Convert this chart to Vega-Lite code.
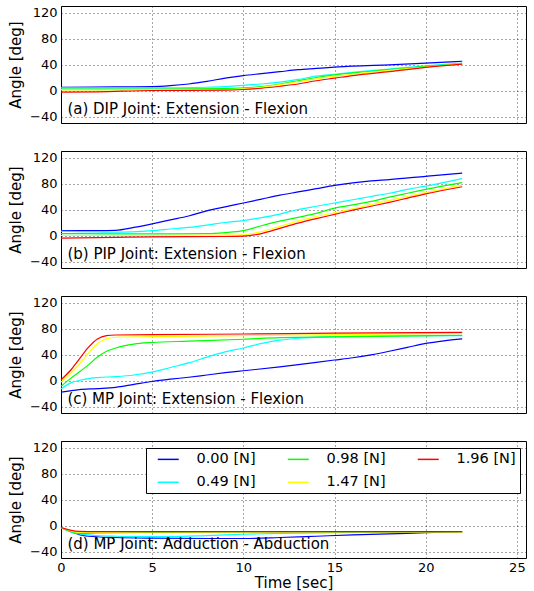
{
  "$schema": "https://vega.github.io/schema/vega-lite/v6.json",
  "padding": {"left": 8, "top": 5, "right": 7, "bottom": 2},
  "background": "white",
  "config": {
    "font": "DejaVu Sans",
    "view": {"stroke": "black", "strokeWidth": 1},
    "axis": {"labelFont": "DejaVu Sans", "labelFontSize": 13, "labelColor": "black", "titleFont": "DejaVu Sans", "titleFontSize": 15, "titleFontWeight": "normal", "titleColor": "black", "grid": true, "gridColor": "black", "gridDash": [1, 3], "gridOpacity": 0.7, "gridWidth": 1, "domain": false, "ticks": false, "tickSize": 0, "labelPadding": 4, "minExtent": 0, "labelOverlap": false, "labelFlush": false, "labelBound": false},
    "concat": {"spacing": 26}
  },
  "resolve": {"scale": {"color": "independent"}, "legend": {"color": "independent"}},
  "datasets": {
    "curves": [
      {"p":"a","f":"0.00 [N]","t":0,"v":5},{"p":"a","f":"0.00 [N]","t":3,"v":5.5},{"p":"a","f":"0.00 [N]","t":5,"v":6},{"p":"a","f":"0.00 [N]","t":6,"v":7.5},{"p":"a","f":"0.00 [N]","t":7,"v":10},{"p":"a","f":"0.00 [N]","t":8,"v":14},{"p":"a","f":"0.00 [N]","t":9,"v":19},{"p":"a","f":"0.00 [N]","t":10,"v":23},{"p":"a","f":"0.00 [N]","t":11,"v":26},{"p":"a","f":"0.00 [N]","t":12,"v":29},{"p":"a","f":"0.00 [N]","t":13,"v":32},{"p":"a","f":"0.00 [N]","t":14,"v":34},{"p":"a","f":"0.00 [N]","t":15,"v":36},{"p":"a","f":"0.00 [N]","t":16,"v":37.5},{"p":"a","f":"0.00 [N]","t":18,"v":39.5},{"p":"a","f":"0.00 [N]","t":20,"v":42},{"p":"a","f":"0.00 [N]","t":22,"v":45},
      {"p":"a","f":"0.49 [N]","t":0,"v":4},{"p":"a","f":"0.49 [N]","t":5,"v":4},{"p":"a","f":"0.49 [N]","t":8,"v":5},{"p":"a","f":"0.49 [N]","t":10,"v":8},{"p":"a","f":"0.49 [N]","t":11,"v":10},{"p":"a","f":"0.49 [N]","t":12,"v":13},{"p":"a","f":"0.49 [N]","t":13,"v":17},{"p":"a","f":"0.49 [N]","t":14,"v":22},{"p":"a","f":"0.49 [N]","t":15,"v":25},{"p":"a","f":"0.49 [N]","t":16,"v":28},{"p":"a","f":"0.49 [N]","t":17,"v":30.5},{"p":"a","f":"0.49 [N]","t":18,"v":33},{"p":"a","f":"0.49 [N]","t":20,"v":38},{"p":"a","f":"0.49 [N]","t":22,"v":42},
      {"p":"a","f":"0.98 [N]","t":0,"v":2},{"p":"a","f":"0.98 [N]","t":5,"v":2},{"p":"a","f":"0.98 [N]","t":9,"v":3},{"p":"a","f":"0.98 [N]","t":10,"v":4},{"p":"a","f":"0.98 [N]","t":11,"v":6},{"p":"a","f":"0.98 [N]","t":12,"v":10},{"p":"a","f":"0.98 [N]","t":13,"v":15},{"p":"a","f":"0.98 [N]","t":14,"v":20},{"p":"a","f":"0.98 [N]","t":15,"v":24},{"p":"a","f":"0.98 [N]","t":16,"v":27},{"p":"a","f":"0.98 [N]","t":18,"v":32},{"p":"a","f":"0.98 [N]","t":20,"v":37},{"p":"a","f":"0.98 [N]","t":22,"v":41},
      {"p":"a","f":"1.47 [N]","t":0,"v":1},{"p":"a","f":"1.47 [N]","t":5,"v":1},{"p":"a","f":"1.47 [N]","t":9,"v":1.5},{"p":"a","f":"1.47 [N]","t":10,"v":2.5},{"p":"a","f":"1.47 [N]","t":11,"v":5},{"p":"a","f":"1.47 [N]","t":12,"v":9},{"p":"a","f":"1.47 [N]","t":13,"v":13.5},{"p":"a","f":"1.47 [N]","t":14,"v":18},{"p":"a","f":"1.47 [N]","t":15,"v":22},{"p":"a","f":"1.47 [N]","t":16,"v":25},{"p":"a","f":"1.47 [N]","t":18,"v":31},{"p":"a","f":"1.47 [N]","t":20,"v":36},{"p":"a","f":"1.47 [N]","t":22,"v":41},
      {"p":"a","f":"1.96 [N]","t":0,"v":-2.5},{"p":"a","f":"1.96 [N]","t":2,"v":-2},{"p":"a","f":"1.96 [N]","t":5,"v":0},{"p":"a","f":"1.96 [N]","t":9,"v":0.5},{"p":"a","f":"1.96 [N]","t":10,"v":1.5},{"p":"a","f":"1.96 [N]","t":11,"v":3.5},{"p":"a","f":"1.96 [N]","t":12,"v":6.5},{"p":"a","f":"1.96 [N]","t":13,"v":10},{"p":"a","f":"1.96 [N]","t":14,"v":15},{"p":"a","f":"1.96 [N]","t":15,"v":19},{"p":"a","f":"1.96 [N]","t":16,"v":23},{"p":"a","f":"1.96 [N]","t":18,"v":29},{"p":"a","f":"1.96 [N]","t":20,"v":35.5},{"p":"a","f":"1.96 [N]","t":22,"v":40.5},

      {"p":"b","f":"0.00 [N]","t":0,"v":7.5},{"p":"b","f":"0.00 [N]","t":2,"v":7.5},{"p":"b","f":"0.00 [N]","t":3,"v":8},{"p":"b","f":"0.00 [N]","t":4,"v":12.5},{"p":"b","f":"0.00 [N]","t":5,"v":18},{"p":"b","f":"0.00 [N]","t":6,"v":24},{"p":"b","f":"0.00 [N]","t":7,"v":30},{"p":"b","f":"0.00 [N]","t":8,"v":38},{"p":"b","f":"0.00 [N]","t":9,"v":44},{"p":"b","f":"0.00 [N]","t":10,"v":50},{"p":"b","f":"0.00 [N]","t":11,"v":56},{"p":"b","f":"0.00 [N]","t":12,"v":62},{"p":"b","f":"0.00 [N]","t":13,"v":67},{"p":"b","f":"0.00 [N]","t":14,"v":72},{"p":"b","f":"0.00 [N]","t":15,"v":77},{"p":"b","f":"0.00 [N]","t":16,"v":81},{"p":"b","f":"0.00 [N]","t":17,"v":84},{"p":"b","f":"0.00 [N]","t":18,"v":86},{"p":"b","f":"0.00 [N]","t":20,"v":91},{"p":"b","f":"0.00 [N]","t":22,"v":96},
      {"p":"b","f":"0.49 [N]","t":0,"v":6.5},{"p":"b","f":"0.49 [N]","t":2,"v":5.5},{"p":"b","f":"0.49 [N]","t":3,"v":5},{"p":"b","f":"0.49 [N]","t":5,"v":7.5},{"p":"b","f":"0.49 [N]","t":6,"v":10},{"p":"b","f":"0.49 [N]","t":7,"v":12.5},{"p":"b","f":"0.49 [N]","t":8,"v":16},{"p":"b","f":"0.49 [N]","t":9,"v":20},{"p":"b","f":"0.49 [N]","t":10,"v":23},{"p":"b","f":"0.49 [N]","t":11,"v":27.5},{"p":"b","f":"0.49 [N]","t":12,"v":33},{"p":"b","f":"0.49 [N]","t":13,"v":40},{"p":"b","f":"0.49 [N]","t":14,"v":45},{"p":"b","f":"0.49 [N]","t":15,"v":50},{"p":"b","f":"0.49 [N]","t":16,"v":55},{"p":"b","f":"0.49 [N]","t":17,"v":60},{"p":"b","f":"0.49 [N]","t":18,"v":65},{"p":"b","f":"0.49 [N]","t":19,"v":71},{"p":"b","f":"0.49 [N]","t":20,"v":76},{"p":"b","f":"0.49 [N]","t":22,"v":87.5},
      {"p":"b","f":"0.98 [N]","t":0,"v":3},{"p":"b","f":"0.98 [N]","t":3,"v":2.5},{"p":"b","f":"0.98 [N]","t":5,"v":2.5},{"p":"b","f":"0.98 [N]","t":8,"v":3},{"p":"b","f":"0.98 [N]","t":9,"v":4.5},{"p":"b","f":"0.98 [N]","t":10,"v":7.5},{"p":"b","f":"0.98 [N]","t":11,"v":15},{"p":"b","f":"0.98 [N]","t":12,"v":22},{"p":"b","f":"0.98 [N]","t":13,"v":28},{"p":"b","f":"0.98 [N]","t":14,"v":34},{"p":"b","f":"0.98 [N]","t":15,"v":42},{"p":"b","f":"0.98 [N]","t":16,"v":47},{"p":"b","f":"0.98 [N]","t":17,"v":52.5},{"p":"b","f":"0.98 [N]","t":18,"v":59},{"p":"b","f":"0.98 [N]","t":19,"v":65},{"p":"b","f":"0.98 [N]","t":20,"v":71},{"p":"b","f":"0.98 [N]","t":22,"v":81.5},
      {"p":"b","f":"1.47 [N]","t":0,"v":0},{"p":"b","f":"1.47 [N]","t":5,"v":0},{"p":"b","f":"1.47 [N]","t":9,"v":0.5},{"p":"b","f":"1.47 [N]","t":10,"v":1},{"p":"b","f":"1.47 [N]","t":11,"v":6},{"p":"b","f":"1.47 [N]","t":12,"v":14},{"p":"b","f":"1.47 [N]","t":13,"v":22},{"p":"b","f":"1.47 [N]","t":14,"v":29},{"p":"b","f":"1.47 [N]","t":15,"v":35},{"p":"b","f":"1.47 [N]","t":16,"v":41},{"p":"b","f":"1.47 [N]","t":17,"v":47.5},{"p":"b","f":"1.47 [N]","t":18,"v":54},{"p":"b","f":"1.47 [N]","t":19,"v":60},{"p":"b","f":"1.47 [N]","t":20,"v":66},{"p":"b","f":"1.47 [N]","t":22,"v":77.5},
      {"p":"b","f":"1.96 [N]","t":0,"v":-4},{"p":"b","f":"1.96 [N]","t":3,"v":-3},{"p":"b","f":"1.96 [N]","t":5,"v":-2},{"p":"b","f":"1.96 [N]","t":9,"v":-1.5},{"p":"b","f":"1.96 [N]","t":10,"v":-1},{"p":"b","f":"1.96 [N]","t":11,"v":3},{"p":"b","f":"1.96 [N]","t":12,"v":11},{"p":"b","f":"1.96 [N]","t":13,"v":19},{"p":"b","f":"1.96 [N]","t":14,"v":26},{"p":"b","f":"1.96 [N]","t":15,"v":32.5},{"p":"b","f":"1.96 [N]","t":16,"v":39},{"p":"b","f":"1.96 [N]","t":17,"v":45},{"p":"b","f":"1.96 [N]","t":18,"v":51},{"p":"b","f":"1.96 [N]","t":19,"v":57.5},{"p":"b","f":"1.96 [N]","t":20,"v":64},{"p":"b","f":"1.96 [N]","t":22,"v":75},

      {"p":"c","f":"0.00 [N]","t":0,"v":-18},{"p":"c","f":"0.00 [N]","t":1,"v":-14},{"p":"c","f":"0.00 [N]","t":2,"v":-12.5},{"p":"c","f":"0.00 [N]","t":3,"v":-10.5},{"p":"c","f":"0.00 [N]","t":4,"v":-6},{"p":"c","f":"0.00 [N]","t":5,"v":-1.5},{"p":"c","f":"0.00 [N]","t":6,"v":2},{"p":"c","f":"0.00 [N]","t":7,"v":5},{"p":"c","f":"0.00 [N]","t":8,"v":8.5},{"p":"c","f":"0.00 [N]","t":9,"v":12},{"p":"c","f":"0.00 [N]","t":10,"v":15},{"p":"c","f":"0.00 [N]","t":12,"v":21},{"p":"c","f":"0.00 [N]","t":14,"v":28},{"p":"c","f":"0.00 [N]","t":15,"v":31.5},{"p":"c","f":"0.00 [N]","t":16,"v":35},{"p":"c","f":"0.00 [N]","t":17,"v":39.5},{"p":"c","f":"0.00 [N]","t":18,"v":45},{"p":"c","f":"0.00 [N]","t":19,"v":51},{"p":"c","f":"0.00 [N]","t":20,"v":57},{"p":"c","f":"0.00 [N]","t":21,"v":61},{"p":"c","f":"0.00 [N]","t":22,"v":64},
      {"p":"c","f":"0.49 [N]","t":0,"v":-13},{"p":"c","f":"0.49 [N]","t":0.5,"v":-4},{"p":"c","f":"0.49 [N]","t":1,"v":0},{"p":"c","f":"0.49 [N]","t":1.5,"v":3},{"p":"c","f":"0.49 [N]","t":2,"v":4.5},{"p":"c","f":"0.49 [N]","t":3,"v":6},{"p":"c","f":"0.49 [N]","t":4,"v":8.5},{"p":"c","f":"0.49 [N]","t":5,"v":13},{"p":"c","f":"0.49 [N]","t":6,"v":20},{"p":"c","f":"0.49 [N]","t":7,"v":27},{"p":"c","f":"0.49 [N]","t":8,"v":36},{"p":"c","f":"0.49 [N]","t":9,"v":44},{"p":"c","f":"0.49 [N]","t":10,"v":50},{"p":"c","f":"0.49 [N]","t":11,"v":57},{"p":"c","f":"0.49 [N]","t":12,"v":62},{"p":"c","f":"0.49 [N]","t":13,"v":65},{"p":"c","f":"0.49 [N]","t":15,"v":67.5},{"p":"c","f":"0.49 [N]","t":18,"v":68.5},{"p":"c","f":"0.49 [N]","t":22,"v":69},
      {"p":"c","f":"0.98 [N]","t":0,"v":-9},{"p":"c","f":"0.98 [N]","t":0.5,"v":2.5},{"p":"c","f":"0.98 [N]","t":1,"v":13},{"p":"c","f":"0.98 [N]","t":1.5,"v":24},{"p":"c","f":"0.98 [N]","t":2,"v":36},{"p":"c","f":"0.98 [N]","t":2.5,"v":45},{"p":"c","f":"0.98 [N]","t":3,"v":50},{"p":"c","f":"0.98 [N]","t":4,"v":56},{"p":"c","f":"0.98 [N]","t":5,"v":58.5},{"p":"c","f":"0.98 [N]","t":7,"v":60.5},{"p":"c","f":"0.98 [N]","t":10,"v":63.5},{"p":"c","f":"0.98 [N]","t":12,"v":66},{"p":"c","f":"0.98 [N]","t":15,"v":67},{"p":"c","f":"0.98 [N]","t":22,"v":69.5},
      {"p":"c","f":"1.47 [N]","t":0,"v":-2.5},{"p":"c","f":"1.47 [N]","t":0.5,"v":10},{"p":"c","f":"1.47 [N]","t":1,"v":25},{"p":"c","f":"1.47 [N]","t":1.5,"v":42},{"p":"c","f":"1.47 [N]","t":2,"v":57},{"p":"c","f":"1.47 [N]","t":2.5,"v":64},{"p":"c","f":"1.47 [N]","t":3,"v":66.5},{"p":"c","f":"1.47 [N]","t":5,"v":67.5},{"p":"c","f":"1.47 [N]","t":10,"v":69},{"p":"c","f":"1.47 [N]","t":15,"v":70.5},{"p":"c","f":"1.47 [N]","t":22,"v":72.5},
      {"p":"c","f":"1.96 [N]","t":0,"v":1},{"p":"c","f":"1.96 [N]","t":0.5,"v":15},{"p":"c","f":"1.96 [N]","t":1,"v":33},{"p":"c","f":"1.96 [N]","t":1.5,"v":51},{"p":"c","f":"1.96 [N]","t":2,"v":64},{"p":"c","f":"1.96 [N]","t":2.5,"v":69},{"p":"c","f":"1.96 [N]","t":3,"v":70},{"p":"c","f":"1.96 [N]","t":5,"v":70.5},{"p":"c","f":"1.96 [N]","t":10,"v":71.5},{"p":"c","f":"1.96 [N]","t":15,"v":73},{"p":"c","f":"1.96 [N]","t":22,"v":74},

      {"p":"d","f":"0.00 [N]","t":0,"v":-3},{"p":"d","f":"0.00 [N]","t":0.5,"v":-9},{"p":"d","f":"0.00 [N]","t":1,"v":-14},{"p":"d","f":"0.00 [N]","t":1.5,"v":-16.5},{"p":"d","f":"0.00 [N]","t":3,"v":-18.5},{"p":"d","f":"0.00 [N]","t":5,"v":-19.5},{"p":"d","f":"0.00 [N]","t":8,"v":-20},{"p":"d","f":"0.00 [N]","t":10,"v":-20},{"p":"d","f":"0.00 [N]","t":12,"v":-18.5},{"p":"d","f":"0.00 [N]","t":14,"v":-16.5},{"p":"d","f":"0.00 [N]","t":16,"v":-14.5},{"p":"d","f":"0.00 [N]","t":18,"v":-13},{"p":"d","f":"0.00 [N]","t":20,"v":-11},{"p":"d","f":"0.00 [N]","t":22,"v":-9.5},
      {"p":"d","f":"0.49 [N]","t":0,"v":-3},{"p":"d","f":"0.49 [N]","t":0.5,"v":-9.5},{"p":"d","f":"0.49 [N]","t":1,"v":-13},{"p":"d","f":"0.49 [N]","t":2,"v":-15.5},{"p":"d","f":"0.49 [N]","t":3,"v":-16.5},{"p":"d","f":"0.49 [N]","t":4,"v":-17},{"p":"d","f":"0.49 [N]","t":6,"v":-17},{"p":"d","f":"0.49 [N]","t":8,"v":-15.5},{"p":"d","f":"0.49 [N]","t":10,"v":-13.5},{"p":"d","f":"0.49 [N]","t":12,"v":-12},{"p":"d","f":"0.49 [N]","t":15,"v":-11},{"p":"d","f":"0.49 [N]","t":18,"v":-10},{"p":"d","f":"0.49 [N]","t":20,"v":-9.5},{"p":"d","f":"0.49 [N]","t":22,"v":-9.5},
      {"p":"d","f":"0.98 [N]","t":0,"v":-3},{"p":"d","f":"0.98 [N]","t":0.5,"v":-9},{"p":"d","f":"0.98 [N]","t":1,"v":-12},{"p":"d","f":"0.98 [N]","t":2,"v":-11.5},{"p":"d","f":"0.98 [N]","t":5,"v":-10.5},{"p":"d","f":"0.98 [N]","t":10,"v":-10},{"p":"d","f":"0.98 [N]","t":22,"v":-10},
      {"p":"d","f":"1.47 [N]","t":0,"v":-3},{"p":"d","f":"1.47 [N]","t":0.5,"v":-8},{"p":"d","f":"1.47 [N]","t":1,"v":-10.5},{"p":"d","f":"1.47 [N]","t":2,"v":-10.5},{"p":"d","f":"1.47 [N]","t":5,"v":-10},{"p":"d","f":"1.47 [N]","t":22,"v":-10},
      {"p":"d","f":"1.96 [N]","t":0,"v":-3},{"p":"d","f":"1.96 [N]","t":0.5,"v":-7},{"p":"d","f":"1.96 [N]","t":1,"v":-9},{"p":"d","f":"1.96 [N]","t":2,"v":-9.5},{"p":"d","f":"1.96 [N]","t":10,"v":-9.5},{"p":"d","f":"1.96 [N]","t":22,"v":-9.5}
    ],
    "labels": [
      {"p":"a","label":"(a) DIP Joint: Extension - Flexion"},
      {"p":"b","label":"(b) PIP Joint: Extension - Flexion"},
      {"p":"c","label":"(c) MP Joint: Extension - Flexion"},
      {"p":"d","label":"(d) MP Joint: Adduction - Abduction"}
    ]
  },
  "vconcat": [
    {
      "width": 465, "height": 117,
      "layer": [
        {
          "data": {"name": "curves"},
          "transform": [{"filter": "datum.p == 'a'"}],
          "mark": {"type": "line", "interpolate": "monotone", "strokeWidth": 1.2},
          "encoding": {
            "x": {"field": "t", "type": "quantitative", "scale": {"domain": [0, 25.5], "nice": false}, "axis": {"values": [0, 5, 10, 15, 20, 25], "tickCount": 20, "labels": false, "title": null, "labelPadding": 0}},
            "y": {"field": "v", "type": "quantitative", "scale": {"domain": [-50, 130], "nice": false}, "axis": {"values": [-40, 0, 40, 80, 120], "tickCount": 20, "title": "Angle [deg]", "titlePadding": 6}},
            "color": {"field": "f", "type": "nominal", "scale": {"domain": ["0.00 [N]", "0.49 [N]", "0.98 [N]", "1.47 [N]", "1.96 [N]"], "range": ["#0000ff", "#00ffff", "#00ff00", "#ffff00", "#ff0000"]}, "legend": null}
          }
        },
        {
          "data": {"name": "labels"},
          "transform": [{"filter": "datum.p == 'a'"}],
          "mark": {"type": "text", "align": "left", "baseline": "middle", "fontSize": 15, "font": "DejaVu Sans", "color": "black"},
          "encoding": {"x": {"datum": 0.35}, "y": {"datum": -28}, "text": {"field": "label"}}
        }
      ]
    },
    {
      "width": 465, "height": 117,
      "layer": [
        {
          "data": {"name": "curves"},
          "transform": [{"filter": "datum.p == 'b'"}],
          "mark": {"type": "line", "interpolate": "monotone", "strokeWidth": 1.2},
          "encoding": {
            "x": {"field": "t", "type": "quantitative", "scale": {"domain": [0, 25.5], "nice": false}, "axis": {"values": [0, 5, 10, 15, 20, 25], "tickCount": 20, "labels": false, "title": null, "labelPadding": 0}},
            "y": {"field": "v", "type": "quantitative", "scale": {"domain": [-50, 130], "nice": false}, "axis": {"values": [-40, 0, 40, 80, 120], "tickCount": 20, "title": "Angle [deg]", "titlePadding": 6}},
            "color": {"field": "f", "type": "nominal", "scale": {"domain": ["0.00 [N]", "0.49 [N]", "0.98 [N]", "1.47 [N]", "1.96 [N]"], "range": ["#0000ff", "#00ffff", "#00ff00", "#ffff00", "#ff0000"]}, "legend": null}
          }
        },
        {
          "data": {"name": "labels"},
          "transform": [{"filter": "datum.p == 'b'"}],
          "mark": {"type": "text", "align": "left", "baseline": "middle", "fontSize": 15, "font": "DejaVu Sans", "color": "black"},
          "encoding": {"x": {"datum": 0.35}, "y": {"datum": -28}, "text": {"field": "label"}}
        }
      ]
    },
    {
      "width": 465, "height": 117,
      "layer": [
        {
          "data": {"name": "curves"},
          "transform": [{"filter": "datum.p == 'c'"}],
          "mark": {"type": "line", "interpolate": "monotone", "strokeWidth": 1.2},
          "encoding": {
            "x": {"field": "t", "type": "quantitative", "scale": {"domain": [0, 25.5], "nice": false}, "axis": {"values": [0, 5, 10, 15, 20, 25], "tickCount": 20, "labels": false, "title": null, "labelPadding": 0}},
            "y": {"field": "v", "type": "quantitative", "scale": {"domain": [-50, 130], "nice": false}, "axis": {"values": [-40, 0, 40, 80, 120], "tickCount": 20, "title": "Angle [deg]", "titlePadding": 6}},
            "color": {"field": "f", "type": "nominal", "scale": {"domain": ["0.00 [N]", "0.49 [N]", "0.98 [N]", "1.47 [N]", "1.96 [N]"], "range": ["#0000ff", "#00ffff", "#00ff00", "#ffff00", "#ff0000"]}, "legend": null}
          }
        },
        {
          "data": {"name": "labels"},
          "transform": [{"filter": "datum.p == 'c'"}],
          "mark": {"type": "text", "align": "left", "baseline": "middle", "fontSize": 15, "font": "DejaVu Sans", "color": "black"},
          "encoding": {"x": {"datum": 0.35}, "y": {"datum": -28}, "text": {"field": "label"}}
        }
      ]
    },
    {
      "width": 465, "height": 117,
      "layer": [
        {
          "data": {"name": "curves"},
          "transform": [{"filter": "datum.p == 'd'"}],
          "mark": {"type": "line", "interpolate": "monotone", "strokeWidth": 1.2},
          "encoding": {
            "x": {"field": "t", "type": "quantitative", "scale": {"domain": [0, 25.5], "nice": false}, "axis": {"values": [0, 5, 10, 15, 20, 25], "tickCount": 20, "title": "Time [sec]", "labelPadding": 3, "titlePadding": 1}},
            "y": {"field": "v", "type": "quantitative", "scale": {"domain": [-50, 130], "nice": false}, "axis": {"values": [-40, 0, 40, 80, 120], "tickCount": 20, "title": "Angle [deg]", "titlePadding": 6}},
            "color": {"field": "f", "type": "nominal", "scale": {"domain": ["0.00 [N]", "0.49 [N]", "0.98 [N]", "1.47 [N]", "1.96 [N]"], "range": ["#0000ff", "#00ffff", "#00ff00", "#ffff00", "#ff0000"]},
              "legend": {"orient": "none", "direction": "vertical", "legendX": 85, "legendY": 7, "columns": 3, "title": null, "symbolType": "M-2,0H2", "symbolSize": 110, "symbolStrokeWidth": 1.5, "symbolOffset": 11, "labelFontSize": 14.5, "labelFont": "DejaVu Sans", "labelColor": "black", "labelBaseline": "middle", "labelOffset": 21, "columnPadding": 24, "rowPadding": 8, "padding": 4, "strokeColor": "black", "fillColor": "white", "cornerRadius": 0, "labelLimit": 200}}
          }
        },
        {
          "data": {"name": "labels"},
          "transform": [{"filter": "datum.p == 'd'"}],
          "mark": {"type": "text", "align": "left", "baseline": "middle", "fontSize": 15, "font": "DejaVu Sans", "color": "black"},
          "encoding": {"x": {"datum": 0.35}, "y": {"datum": -28}, "text": {"field": "label"}}
        }
      ]
    }
  ]
}
